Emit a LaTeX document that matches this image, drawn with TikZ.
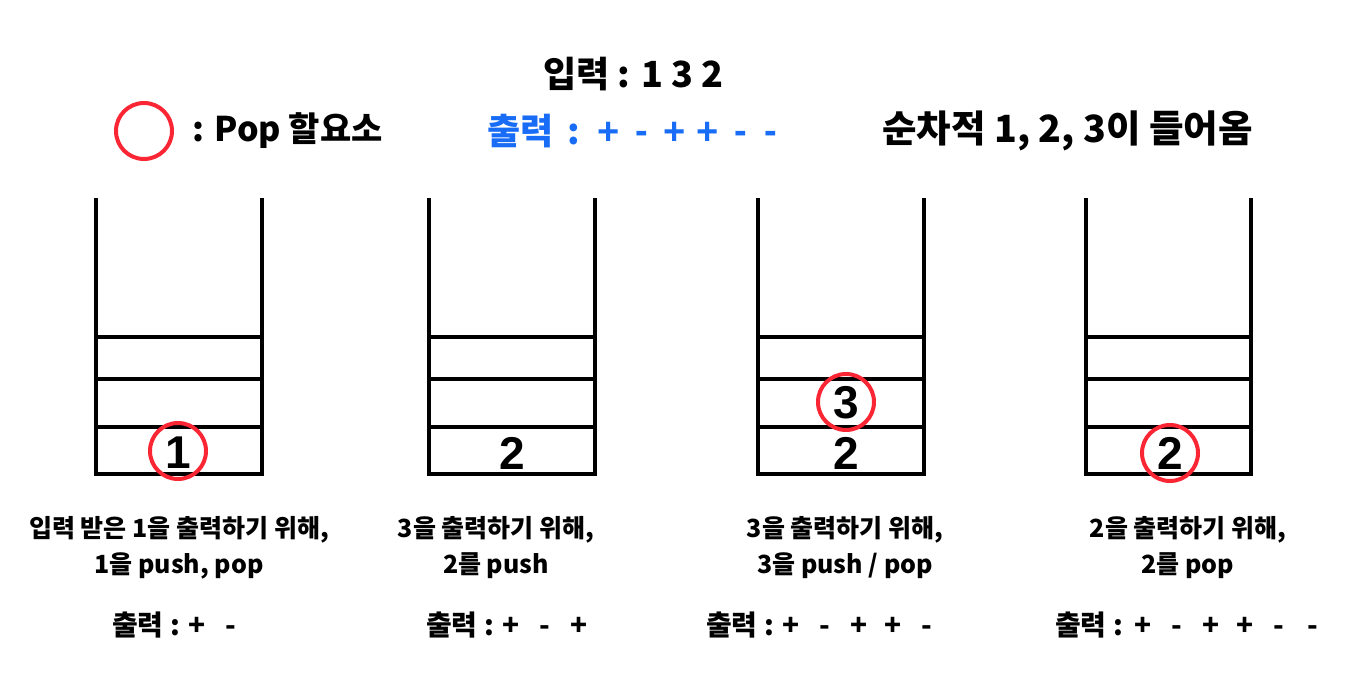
\documentclass[tikz,border=0pt]{standalone}
\usepackage{fontspec}
\newfontfamily\kr{Noto Sans CJK KR}
\newfontfamily\lat{Liberation Sans}
\definecolor{popred}{RGB}{250,38,52}
\definecolor{outblue}{RGB}{24,108,246}
\newcommand{\symk}[1]{\makebox[34pt]{#1}}
\newcommand{\symb}[1]{\makebox[33pt]{#1}}
\begin{document}
\begin{tikzpicture}[x=1pt,y=-1pt,
  txt/.style={font=\kr\bfseries\fontsize{36}{40}\selectfont, inner sep=0pt, anchor=west},
  num/.style={font=\lat\bfseries\fontsize{46}{48}\selectfont, inner sep=0pt},
  captxt/.style={font=\kr\bfseries\fontsize{25}{36}\selectfont, inner sep=0pt, align=center},
  outl/.style={font=\kr\bfseries\fontsize{28}{30}\selectfont, inner sep=0pt, anchor=west},
  popc/.style={draw=popred, line width=4pt, circle, minimum size=56pt, inner sep=0pt},
  stackline/.style={line width=4pt, line join=miter}]
\useasboundingbox (0,0) rectangle (1366,674);
% header
\node[txt] (tin) at (543,74) {입력 : 1 3 2};
\node[popc] (legc) at (144,131) {};
\node[txt, font=\kr\bfseries\fontsize{34}{38}\selectfont] (legt) at (192,131) {: Pop 할요소};
\node[txt, text=outblue, font=\kr\bfseries\fontsize{36}{38}\selectfont] (tout) at (487,131)
  {출력\hspace{14pt}:\hspace{12pt}{\lat\bfseries\fontsize{38}{40}\selectfont\symb{+}\symb{\raisebox{1pt}{-}}\symb{+}\symb{+}\symb{\raisebox{1pt}{-}}\makebox[27pt]{\raisebox{1pt}{-}}}};
\node[txt, font=\kr\bfseries\fontsize{37.5}{40}\selectfont] (tseq) at (882,131) {순차적 1, 2, 3이 들어옴};
% stacks
\foreach \l/\r in {96/262, 429/595, 758/924, 1086/1251}{
  \draw[stackline] (\l,198) -- (\l,474) -- (\r,474) -- (\r,198);
  \draw[stackline] (\l,337) -- (\r,337);
  \draw[stackline] (\l,379) -- (\r,379);
  \draw[stackline] (\l,427) -- (\r,427);
}
% numbers
\node[num] (n1) at (178,453) {1};
\node[popc] (c1) at (178,451) {};
\node[num] (n2) at (512,453) {2};
\node[num] (n3b) at (846,453) {2};
\node[num] (n3t) at (846,403) {3};
\node[popc] (c3) at (846,402) {};
\node[num] (n4) at (1170,453) {2};
\node[popc] (c4) at (1170,453) {};
% captions
\node[captxt] (cap1) at (179,548) {입력 받은 1을 출력하기 위해,\\1을 push, pop};
\node[captxt] (cap2) at (496,548) {3을 출력하기 위해,\\2를 push};
\node[captxt] (cap3) at (845,548) {3을 출력하기 위해,\\3을 push / pop};
\node[captxt] (cap4) at (1188,548) {2을 출력하기 위해,\\2를 pop};
% outputs
\node[outl] (o1) at (112,625) {출력 :\symk{+}\symk{-}};
\node[outl] (o2) at (426,625) {출력 :\symk{+}\symk{-}\symk{+}};
\node[outl] (o3) at (706,625) {출력 :\symk{+}\symk{-}\symk{+}\symk{+}\symk{-}};
\node[outl] (o4) at (1055,625) {출력 :\hspace{3pt}\symk{+}\symk{-}\symk{+}\symk{+}\symk{-}\symk{-}};
\end{tikzpicture}
\end{document}
